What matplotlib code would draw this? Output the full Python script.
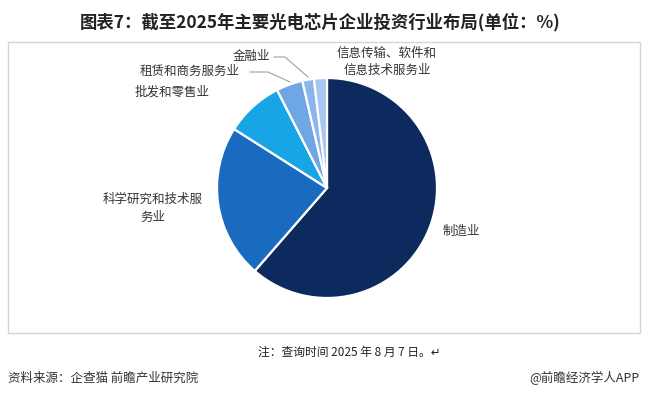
import matplotlib
matplotlib.use('Agg')
import matplotlib.pyplot as plt
from matplotlib.patches import Rectangle

plt.rcParams['font.family'] = ['Noto Sans CJK SC', 'DejaVu Sans']

# 行业占比（%），顺时针从12点方向开始
industries = ['制造业', '科学研究和技术服\n务业', '批发和零售业', '租赁和商务服务业',
              '金融业', '信息传输、软件和\n信息技术服务业']
shares = [61.4, 22.6, 8.5, 3.9, 1.7, 1.9]
colors = ['#0d2a5e', '#1a6bbf', '#17a5e6', '#6fa6e4', '#8db5eb', '#a8c7f0']

W, H = 646, 395
fig = plt.figure(figsize=(W / 100, H / 100), dpi=100)
ax = fig.add_axes([0, 0, 1, 1])

cx, cy, r = 327, H - 188, 110
ax.pie(shares, colors=colors, startangle=90, counterclock=False,
       center=(cx, cy), radius=r,
       wedgeprops=dict(edgecolor='white', linewidth=1.6))
ax.set_xlim(0, W)
ax.set_ylim(0, H)
ax.axis('off')

# 外框
ax.add_patch(Rectangle((8, H - 333), 632, 291, fill=False,
                       edgecolor='#d4d4d4', linewidth=1.0))

# 标题
ax.text(W / 2 - 3, H - 22, '图表7：截至2025年主要光电芯片企业投资行业布局(单位：%)',
        ha='center', va='center', fontsize=12.5, fontweight='bold', color='#222222')

lab = dict(fontsize=9, color='#333333', va='center')
ax.text(443, H - 231, industries[0], ha='left', **lab)
ax.text(153, H - 208, industries[1], ha='center', linespacing=1.5, **lab)
ax.text(135, H - 92, industries[2], ha='left', **lab)
ax.text(140, H - 71, industries[3], ha='left', **lab)
ax.text(233, H - 56, industries[4], ha='left', **lab)
ax.text(387, H - 62, industries[5], ha='center', linespacing=1.4, **lab)

# 引线
ax.plot([250, 268, 290], [H - 72, H - 72, H - 82], color='#a0a0a0', lw=0.8)
ax.plot([274, 285, 308], [H - 57, H - 57, H - 77], color='#a0a0a0', lw=0.8)

# 注释与来源
ax.text(349, H - 352, '注：查询时间 2025 年 8 月 7 日。↵', ha='center', va='center',
        fontsize=8.5, color='#222222')
ax.text(8, H - 378, '资料来源：企查猫 前瞻产业研究院', ha='left', va='center',
        fontsize=9, color='#333333')
ax.text(640, H - 378, '@前瞻经济学人APP', ha='right', va='center',
        fontsize=9, color='#333333')

fig.savefig('out.png', dpi=100)
